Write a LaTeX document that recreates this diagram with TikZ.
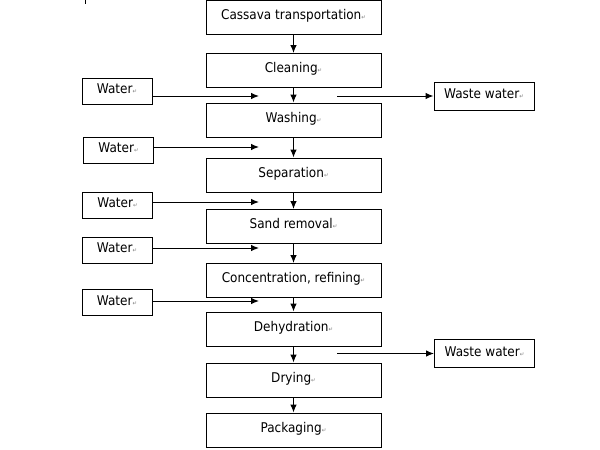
\documentclass[tikz,border=0pt]{standalone}
\usepackage{fontspec}
\setmainfont{DejaVu Sans Condensed}
\usetikzlibrary{arrows,arrows.meta}

\newcommand{\pmark}{{\fontsize{6}{6}\selectfont\textcolor{gray}{↵}}}

\begin{document}
\begin{tikzpicture}[x=1pt,y=-1pt,
    every node/.style={font=\fontsize{13.4}{16}\selectfont},
    stage/.style={draw,line width=1pt,minimum width=175pt,minimum height=34pt,
      text height=9.5pt,text depth=5pt,inner sep=0pt},
    water/.style={draw,line width=1pt,minimum width=70pt,minimum height=26pt,
      text height=9.5pt,text depth=4pt,inner sep=0pt},
    waste/.style={draw,line width=1pt,minimum width=100pt,minimum height=28pt,
      text height=9.5pt,text depth=4pt,inner sep=0pt},
    flow/.style={-{Latex[length=8pt,width=6.5pt]},line width=1pt}]

    \useasboundingbox (0,0) rectangle (600,450);

    % main line
    \node[stage] (cassava)  at (293.5,17.5)  {Cassava transportation\pmark};
    \node[stage] (cleaning) at (293.5,70.5)  {Cleaning\pmark};
    \node[stage] (washing)  at (293.5,120)   {Washing\pmark};
    \node[stage] (separ)    at (293.5,175)   {Separation\pmark};
    \node[stage] (sand)     at (293.5,226.5) {Sand removal\pmark};
    \node[stage] (concen)   at (293.5,280.5) {Concentration, refining\pmark};
    \node[stage] (dehyd)    at (293.5,329)   {Dehydration\pmark};
    \node[stage] (drying)   at (293.5,380)   {Drying\pmark};
    \node[stage] (pack)     at (293.5,430)   {Packaging\pmark};

    \draw[flow] (cassava) -- (cleaning);
    \draw[flow] (cleaning) -- (washing);
    \draw[flow] (washing) -- (separ);
    \draw[flow] (separ) -- (sand);
    \draw[flow] (sand) -- (concen);
    \draw[flow] (concen) -- (dehyd);
    \draw[flow] (dehyd) -- (drying);
    \draw[flow] (drying) -- (pack);

    % water in
    \node[water] (wa) at (117,91)  {Water\pmark};
    \node[water] (wb) at (118.5,150) {Water\pmark};
    \node[water] (wc) at (117.5,205) {Water\pmark};
    \node[water] (wd) at (117,250) {Water\pmark};
    \node[water] (we) at (117,302.5) {Water\pmark};

    \coordinate (ina) at (259,96);
    \coordinate (inb) at (259,147);
    \coordinate (inc) at (259,202);
    \coordinate (ind) at (259,248);
    \coordinate (ine) at (259,301);

    \draw[flow] (wa.east |- ina) -- (ina);
    \draw[flow] (wb.east |- inb) -- (inb);
    \draw[flow] (wc.east |- inc) -- (inc);
    \draw[flow] (wd.east |- ind) -- (ind);
    \draw[flow] (we.east |- ine) -- (ine);

    % waste water out
    \node[waste] (wwa) at (484,96)    {Waste water\pmark};
    \node[waste] (wwb) at (484.5,353.5) {Waste water\pmark};

    \coordinate (outa) at (337,96);
    \coordinate (outb) at (337,353.5);

    \draw[flow] (outa) -- (wwa);
    \draw[flow] (outb) -- (wwb);

    \draw[line width=1pt] (85,0) -- (85,4);
\end{tikzpicture}
\end{document}
